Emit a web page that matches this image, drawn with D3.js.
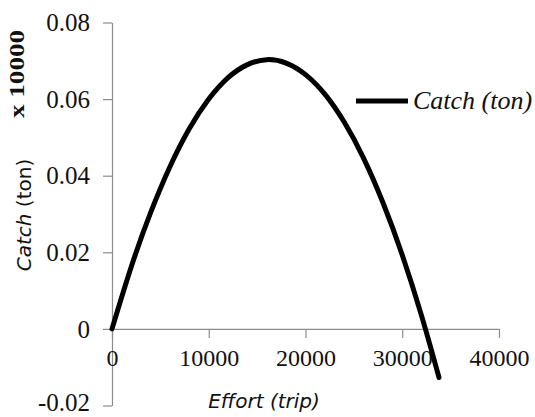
<!DOCTYPE html>
<html>
<head>
<meta charset="utf-8">
<script src="https://cdn.jsdelivr.net/npm/d3@7"></script>
<style>
  body { margin: 0; background: #fff; }
  .tick text { font-family: "Liberation Serif", "Times New Roman", serif; font-size: 24px; fill: #111; }
  .domain, .tick line { stroke: #8c8c8c; stroke-width: 1.2px; }
</style>
</head>
<body>
<svg id="chart" width="535" height="417"></svg>
<script>
// effort (trip) and catch (ton, x 10000)
const effort = [0, 2000, 4000, 6000, 8000, 10000, 12000, 14000, 16000, 18000, 20000, 22000, 24000, 26000, 28000, 30000, 32000, 33800];
const catchTon = [0, 0.0163, 0.0304, 0.0424, 0.0523, 0.0600, 0.0656, 0.0690, 0.0703, 0.0694, 0.0664, 0.0613, 0.0540, 0.0446, 0.0330, 0.0193, 0.0034, -0.0127];
const xTicks = [0, 10000, 20000, 30000, 40000];
const yTicks = [-0.02, 0, 0.02, 0.04, 0.06, 0.08];

const svg = d3.select("#chart");

const x = d3.scaleLinear().domain([0, 40000]).range([112, 499]);
const y = d3.scaleLinear().domain([-0.02, 0.08]).range([405.5, 22.5]);

// y axis (plain hyphen for the minus sign, like the original)
const yAxis = svg.append("g")
    .attr("transform", `translate(${x(0)},0)`)
    .call(d3.axisLeft(y).tickValues(yTicks).tickSize(9).tickSizeOuter(0)
        .tickFormat(d => d === 0 ? "0" : d.toFixed(2)));
yAxis.selectAll(".tick text").attr("x", -22).attr("dy", "0.33em")
    .style("font-size", "25px");
// lowest label sits right on the bottom edge, nudge it in
yAxis.selectAll(".tick text").filter(d => d === -0.02).attr("dy", "0.2em");

// x axis at catch = 0
const xAxis = svg.append("g")
    .attr("transform", `translate(0,${y(0)})`)
    .call(d3.axisBottom(x).tickValues(xTicks).tickSize(9).tickSizeOuter(0).tickFormat(d3.format("d")));
xAxis.selectAll(".tick text").attr("y", 20).attr("dy", "0.71em");

// curve
const line = d3.line()
    .x((d, i) => x(effort[i]))
    .y(d => y(d))
    .curve(d3.curveNatural);

svg.append("path")
    .attr("d", line(catchTon))
    .attr("fill", "none")
    .attr("stroke", "#000")
    .attr("stroke-width", 5)
    .attr("stroke-linecap", "round");

// legend
svg.append("line")
    .attr("x1", 356).attr("x2", 408)
    .attr("y1", 101).attr("y2", 101)
    .attr("stroke", "#000").attr("stroke-width", 5);
svg.append("text")
    .attr("x", 413).attr("y", 109)
    .attr("font-family", "Liberation Serif, Times New Roman, serif")
    .attr("font-style", "italic")
    .attr("font-size", 26)
    .attr("fill", "#111")
    .text("Catch (ton)");

// x axis title
svg.append("text")
    .attr("x", 264).attr("y", 408)
    .attr("text-anchor", "middle")
    .attr("font-family", "DejaVu Sans, Verdana, sans-serif")
    .attr("font-style", "italic")
    .attr("font-size", 20)
    .attr("fill", "#111")
    .text("Effort (trip)");

// y axis title
const yt = svg.append("text")
    .attr("transform", "translate(31,215) rotate(-90)")
    .attr("text-anchor", "middle")
    .attr("font-family", "DejaVu Sans, Verdana, sans-serif")
    .attr("font-size", 20)
    .attr("fill", "#111");
yt.append("tspan").attr("font-style", "italic").text("Catch");
yt.append("tspan").text(" (ton)");

svg.append("text")
    .attr("transform", "translate(24,74) rotate(-90)")
    .attr("text-anchor", "middle")
    .attr("font-family", "Liberation Serif, Times New Roman, serif")
    .attr("font-weight", "bold")
    .attr("font-size", 21)
    .attr("textLength", 88)
    .attr("lengthAdjust", "spacingAndGlyphs")
    .attr("fill", "#111")
    .text("x 10000");
</script>
</body>
</html>
